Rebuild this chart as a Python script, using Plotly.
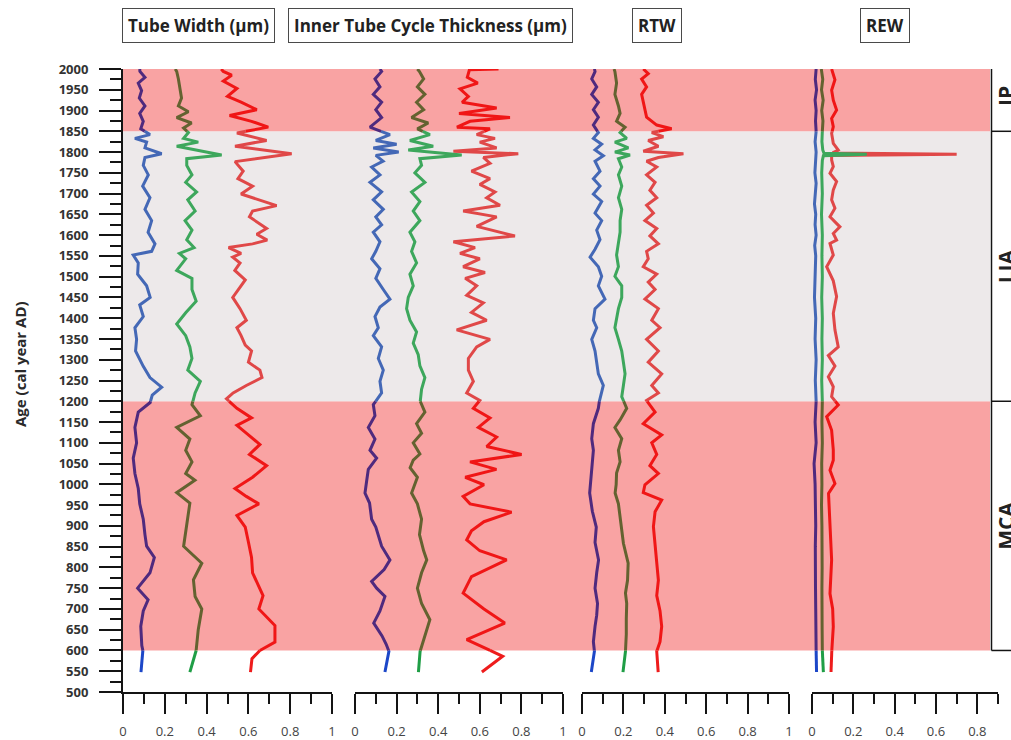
import plotly.graph_objects as go

# ---------------- data: age (cal year AD) vs. value, three series per panel ----------------
# Tube Width (µm)
tw_blue_age = [2000, 1994, 1980, 1966, 1948, 1930, 1911, 1893, 1874, 1856, 1842, 1833, 1824, 1810, 1796,
               1787, 1768, 1745, 1718, 1690, 1662, 1635, 1607, 1579, 1561, 1552, 1533, 1506, 1478, 1450,
               1432, 1404, 1377, 1349, 1321, 1284, 1257, 1234, 1215, 1197, 1174, 1137, 1100, 1063, 1026,
               990, 953, 916, 879, 851, 824, 787, 750, 722, 695, 658, 612, 600, 548]
tw_blue = [0.080, 0.081, 0.105, 0.073, 0.089, 0.078, 0.105, 0.080, 0.097, 0.085, 0.129, 0.057, 0.113, 0.105, 0.185,
           0.105, 0.097, 0.121, 0.094, 0.129, 0.105, 0.137, 0.120, 0.153, 0.137, 0.049, 0.073, 0.070, 0.113, 0.130,
           0.080, 0.097, 0.057, 0.065, 0.060, 0.097, 0.129, 0.185, 0.140, 0.130, 0.073, 0.057, 0.065, 0.049, 0.057,
           0.073, 0.080, 0.097, 0.105, 0.113, 0.150, 0.129, 0.070, 0.120, 0.097, 0.085, 0.090, 0.095, 0.086]

tw_green_age = [2000, 1994, 1976, 1948, 1930, 1911, 1897, 1883, 1870, 1858, 1847, 1833, 1824, 1814, 1805,
                1793, 1784, 1768, 1745, 1727, 1704, 1685, 1658, 1635, 1612, 1589, 1570, 1556, 1543, 1515,
                1496, 1469, 1441, 1413, 1386, 1358, 1331, 1303, 1275, 1248, 1220, 1192, 1165, 1137, 1109,
                1082, 1054, 1026, 1010, 980, 955, 916, 879, 851, 810, 770, 730, 700, 650, 600, 548]
tw_green = [0.250, 0.257, 0.265, 0.273, 0.280, 0.265, 0.313, 0.257, 0.328, 0.290, 0.313, 0.290, 0.360, 0.257, 0.350,
            0.472, 0.305, 0.305, 0.330, 0.300, 0.352, 0.310, 0.345, 0.297, 0.330, 0.305, 0.340, 0.270, 0.300, 0.257,
            0.330, 0.330, 0.350, 0.300, 0.257, 0.300, 0.320, 0.330, 0.310, 0.370, 0.345, 0.330, 0.370, 0.257, 0.320,
            0.300, 0.330, 0.300, 0.344, 0.257, 0.320, 0.310, 0.300, 0.290, 0.377, 0.337, 0.345, 0.377, 0.360, 0.350,
            0.320]

tw_red_age = [2000, 1994, 1985, 1971, 1953, 1934, 1920, 1902, 1888, 1874, 1860, 1846, 1828, 1814, 1796,
              1777, 1754, 1736, 1718, 1699, 1671, 1658, 1644, 1630, 1616, 1602, 1588, 1579, 1570, 1556,
              1547, 1533, 1515, 1492, 1469, 1450, 1423, 1395, 1377, 1358, 1335, 1321, 1294, 1275, 1257,
              1238, 1220, 1206, 1183, 1160, 1142, 1119, 1096, 1072, 1045, 1017, 990, 971, 953, 925,
              897, 861, 824, 787, 732, 700, 660, 620, 600, 580, 548]
tw_red = [0.470, 0.480, 0.520, 0.480, 0.545, 0.500, 0.565, 0.640, 0.510, 0.615, 0.695, 0.545, 0.687, 0.536, 0.807,
          0.536, 0.575, 0.550, 0.620, 0.565, 0.735, 0.620, 0.605, 0.645, 0.687, 0.640, 0.690, 0.620, 0.505, 0.565,
          0.525, 0.560, 0.535, 0.585, 0.550, 0.525, 0.560, 0.590, 0.545, 0.565, 0.585, 0.615, 0.600, 0.655, 0.665,
          0.590, 0.527, 0.495, 0.545, 0.615, 0.545, 0.600, 0.655, 0.605, 0.687, 0.620, 0.536, 0.590, 0.650, 0.545,
          0.585, 0.600, 0.615, 0.620, 0.670, 0.650, 0.727, 0.727, 0.655, 0.617, 0.610]

# Inner Tube Cycle Thickness (µm)
itc_blue_age = [2000, 1994, 1976, 1957, 1939, 1920, 1902, 1883, 1860, 1842, 1828, 1819, 1810, 1800, 1792,
                1778, 1764, 1745, 1727, 1704, 1685, 1662, 1644, 1625, 1607, 1584, 1561, 1543, 1519, 1496,
                1469, 1446, 1427, 1404, 1377, 1358, 1331, 1303, 1275, 1248, 1220, 1192, 1165, 1137, 1109,
                1082, 1063, 1036, 1008, 979, 955, 916, 897, 851, 818, 795, 766, 750, 730, 695,
                666, 635, 615, 598, 548]
itc_blue = [0.120, 0.128, 0.096, 0.120, 0.088, 0.128, 0.100, 0.128, 0.072, 0.168, 0.100, 0.200, 0.088, 0.210, 0.100,
            0.135, 0.080, 0.120, 0.072, 0.128, 0.088, 0.136, 0.100, 0.128, 0.088, 0.120, 0.100, 0.080, 0.120, 0.100,
            0.136, 0.168, 0.120, 0.096, 0.112, 0.088, 0.128, 0.112, 0.136, 0.120, 0.128, 0.088, 0.096, 0.064, 0.096,
            0.072, 0.104, 0.064, 0.056, 0.048, 0.070, 0.080, 0.100, 0.128, 0.168, 0.140, 0.080, 0.104, 0.144, 0.120,
            0.090, 0.130, 0.150, 0.163, 0.144]

itc_green_age = [2000, 1994, 1976, 1957, 1939, 1920, 1902, 1883, 1870, 1856, 1842, 1828, 1814, 1805, 1793,
                 1784, 1768, 1750, 1727, 1704, 1681, 1658, 1635, 1607, 1584, 1561, 1533, 1506, 1478, 1450,
                 1423, 1395, 1367, 1340, 1312, 1285, 1257, 1229, 1202, 1174, 1146, 1123, 1100, 1073, 1058,
                 1040, 1017, 979, 953, 916, 879, 840, 818, 787, 750, 713, 674, 639, 598, 548]
itc_green = [0.300, 0.310, 0.330, 0.300, 0.336, 0.296, 0.330, 0.272, 0.352, 0.300, 0.360, 0.264, 0.376, 0.256, 0.513,
             0.312, 0.320, 0.288, 0.336, 0.272, 0.312, 0.280, 0.312, 0.264, 0.288, 0.272, 0.296, 0.264, 0.280, 0.256,
             0.248, 0.264, 0.296, 0.280, 0.304, 0.312, 0.336, 0.320, 0.312, 0.336, 0.296, 0.320, 0.280, 0.312, 0.280,
             0.265, 0.300, 0.272, 0.300, 0.320, 0.310, 0.330, 0.345, 0.320, 0.300, 0.320, 0.360, 0.340, 0.313, 0.305]

itc_red_age = [2000, 1998, 1980, 1966, 1952, 1934, 1920, 1906, 1893, 1883, 1874, 1860, 1856, 1842, 1833,
               1824, 1810, 1802, 1796, 1787, 1773, 1754, 1736, 1722, 1704, 1690, 1672, 1658, 1644, 1621,
               1598, 1584, 1570, 1556, 1543, 1524, 1510, 1496, 1478, 1455, 1437, 1414, 1395, 1372, 1349,
               1331, 1303, 1275, 1248, 1220, 1202, 1183, 1160, 1137, 1114, 1091, 1072, 1054, 1036, 1017,
               999, 971, 953, 933, 910, 888, 866, 840, 818, 778, 738, 700, 666, 626, 586, 548]
itc_red = [0.690, 0.550, 0.540, 0.590, 0.505, 0.545, 0.515, 0.681, 0.500, 0.745, 0.553, 0.490, 0.649, 0.585, 0.673,
           0.600, 0.681, 0.473, 0.785, 0.617, 0.649, 0.560, 0.649, 0.600, 0.673, 0.633, 0.697, 0.520, 0.681, 0.585,
           0.769, 0.473, 0.577, 0.505, 0.600, 0.520, 0.625, 0.530, 0.585, 0.537, 0.617, 0.560, 0.633, 0.489, 0.649,
           0.585, 0.545, 0.545, 0.569, 0.537, 0.600, 0.569, 0.649, 0.593, 0.681, 0.633, 0.801, 0.553, 0.680, 0.530,
           0.620, 0.520, 0.553, 0.753, 0.620, 0.560, 0.537, 0.600, 0.729, 0.560, 0.520, 0.620, 0.720, 0.537, 0.710,
           0.610]

# RTW
rtw_blue_age = [2000, 1994, 1976, 1957, 1939, 1920, 1902, 1884, 1865, 1847, 1833, 1819, 1805, 1791, 1778,
                1754, 1736, 1718, 1699, 1681, 1653, 1635, 1612, 1589, 1566, 1547, 1524, 1501, 1478, 1446,
                1423, 1395, 1377, 1349, 1321, 1294, 1266, 1238, 1211, 1183, 1146, 1110, 1082, 1054, 1008,
                979, 935, 897, 860, 818, 787, 750, 713, 685, 658, 621, 598, 548]
rtw_blue = [0.060, 0.063, 0.047, 0.071, 0.047, 0.079, 0.055, 0.079, 0.055, 0.079, 0.055, 0.095, 0.063, 0.103, 0.063,
            0.087, 0.055, 0.087, 0.055, 0.095, 0.063, 0.095, 0.071, 0.087, 0.063, 0.039, 0.079, 0.095, 0.079, 0.111,
            0.063, 0.055, 0.071, 0.047, 0.063, 0.071, 0.079, 0.103, 0.087, 0.079, 0.055, 0.047, 0.055, 0.050, 0.040,
            0.037, 0.050, 0.069, 0.063, 0.080, 0.071, 0.063, 0.075, 0.071, 0.063, 0.055, 0.060, 0.045]

rtw_green_age = [2000, 1994, 1966, 1939, 1911, 1893, 1874, 1860, 1847, 1833, 1824, 1810, 1800, 1793, 1784,
                 1764, 1745, 1718, 1690, 1662, 1635, 1607, 1579, 1552, 1524, 1501, 1478, 1450, 1423, 1395,
                 1377, 1349, 1321, 1294, 1266, 1238, 1211, 1183, 1155, 1137, 1110, 1082, 1054, 1027, 999,
                 979, 953, 916, 880, 858, 810, 769, 738, 713, 676, 639, 598, 548]
rtw_green = [0.155, 0.159, 0.167, 0.159, 0.176, 0.184, 0.167, 0.208, 0.184, 0.216, 0.159, 0.224, 0.159, 0.232, 0.176,
             0.192, 0.176, 0.192, 0.176, 0.192, 0.184, 0.184, 0.176, 0.167, 0.176, 0.159, 0.192, 0.192, 0.176, 0.167,
             0.159, 0.176, 0.192, 0.200, 0.208, 0.200, 0.192, 0.216, 0.184, 0.159, 0.192, 0.176, 0.184, 0.167, 0.165,
             0.160, 0.176, 0.184, 0.192, 0.200, 0.223, 0.220, 0.210, 0.216, 0.214, 0.214, 0.210, 0.198]

rtw_red_age = [2000, 1989, 1976, 1957, 1939, 1920, 1902, 1884, 1865, 1856, 1847, 1837, 1828, 1814, 1802,
               1796, 1787, 1778, 1764, 1745, 1727, 1708, 1690, 1672, 1653, 1635, 1616, 1598, 1579, 1561,
               1543, 1524, 1506, 1487, 1469, 1446, 1423, 1395, 1377, 1349, 1321, 1294, 1266, 1238, 1220,
               1202, 1174, 1146, 1119, 1100, 1072, 1045, 1026, 999, 980, 962, 934, 898, 851, 805,
               769, 732, 695, 658, 621, 598, 548]
rtw_red = [0.296, 0.320, 0.288, 0.312, 0.288, 0.296, 0.304, 0.312, 0.361, 0.433, 0.337, 0.393, 0.320, 0.369, 0.296,
           0.490, 0.369, 0.312, 0.361, 0.312, 0.353, 0.328, 0.361, 0.312, 0.345, 0.304, 0.361, 0.328, 0.369, 0.312,
           0.320, 0.296, 0.361, 0.320, 0.353, 0.304, 0.369, 0.337, 0.377, 0.312, 0.369, 0.320, 0.385, 0.337, 0.369,
           0.312, 0.353, 0.296, 0.385, 0.337, 0.361, 0.328, 0.369, 0.304, 0.296, 0.385, 0.353, 0.345, 0.353, 0.361,
           0.369, 0.361, 0.377, 0.385, 0.377, 0.361, 0.368]

# REW
rew_blue_age = [2000, 1975, 1950, 1925, 1900, 1875, 1850, 1825, 1800, 1775, 1750, 1725, 1700, 1675, 1650,
                1625, 1600, 1575, 1550, 1500, 1450, 1400, 1350, 1300, 1250, 1200, 1150, 1100, 1050, 1000,
                950, 900, 850, 800, 750, 700, 650, 600, 548]
rew_blue = [0.020, 0.016, 0.022, 0.015, 0.020, 0.017, 0.020, 0.015, 0.020, 0.016, 0.014, 0.020, 0.017, 0.012, 0.018,
            0.015, 0.020, 0.013, 0.018, 0.016, 0.012, 0.018, 0.015, 0.020, 0.016, 0.020, 0.015, 0.020, 0.010, 0.015,
            0.017, 0.018, 0.016, 0.015, 0.017, 0.018, 0.019, 0.020, 0.022]

rew_green_age = [2000, 1975, 1950, 1925, 1900, 1875, 1850, 1825, 1805, 1797, 1795, 1791, 1780, 1750, 1700,
                 1650, 1600, 1550, 1500, 1450, 1400, 1350, 1300, 1250, 1200, 1150, 1100, 1050, 1000, 950,
                 900, 850, 800, 750, 700, 650, 600, 548]
rew_green = [0.045, 0.052, 0.046, 0.054, 0.047, 0.053, 0.050, 0.048, 0.052, 0.058, 0.265, 0.055, 0.050, 0.047, 0.050,
             0.046, 0.050, 0.048, 0.050, 0.047, 0.050, 0.048, 0.050, 0.047, 0.050, 0.048, 0.050, 0.047, 0.048, 0.046,
             0.048, 0.050, 0.049, 0.048, 0.050, 0.049, 0.050, 0.055]

rew_red_age = [2000, 1974, 1949, 1925, 1901, 1881, 1861, 1845, 1821, 1805, 1798, 1795, 1792, 1781, 1765,
               1749, 1729, 1709, 1685, 1665, 1644, 1620, 1604, 1588, 1580, 1552, 1524, 1490, 1452, 1412,
               1372, 1331, 1310, 1285, 1259, 1235, 1211, 1191, 1163, 1130, 1083, 1058, 1034, 1002, 978,
               898, 818, 737, 700, 657, 593, 548]
rew_red = [0.095, 0.111, 0.095, 0.103, 0.119, 0.095, 0.103, 0.095, 0.103, 0.127, 0.100, 0.700, 0.095, 0.095, 0.103,
           0.087, 0.119, 0.103, 0.095, 0.111, 0.087, 0.135, 0.103, 0.119, 0.087, 0.103, 0.071, 0.103, 0.119, 0.103,
           0.111, 0.127, 0.079, 0.111, 0.079, 0.103, 0.095, 0.127, 0.071, 0.095, 0.103, 0.103, 0.087, 0.111, 0.080,
           0.087, 0.095, 0.087, 0.100, 0.103, 0.095, 0.092]

panel_titles = ["Tube Width (µm)", "Inner Tube Cycle Thickness (µm)", "RTW", "REW"]
period_labels = ["IP", "LIA", "MCA"]
period_mid = [1935, 1525, 900]
period_edges = [1850, 1200, 600]

# ---------------- styling ----------------
W, H = 1011, 740
ML, MR, MT, MB = 123, 13, 69, 48
FONT = "Open Sans, Arial, sans-serif"
INK = "#141414"
PINK = "#f9a3a3"
GREY = "#ede9ea"

# line colours as seen through each climate band
LINE_COLOURS = {
    "plain": {"blue": "#1c47c8", "green": "#1f9e46", "red": "#ee1c1c"},
    "warm": {"blue": "#4f2a7e", "green": "#646230", "red": "#f01616"},
    "cool": {"blue": "#4468b6", "green": "#3da75c", "red": "#e04848"},
}
# (lower age, upper age, band fill, palette)
ZONES = [
    (500, 600, None, "plain"),
    (600, 1200, PINK, "warm"),
    (1200, 1850, GREY, "cool"),
    (1850, 2000, PINK, "warm"),
]


def px_x(p):
    return (p - ML) / (W - ML - MR)


def px_y(p):
    return 1 - (p - MT) / (H - MT - MB)


def zone_path(ages, vals, lo, hi):
    """Part of a polyline lying inside lo <= age <= hi (cut exactly at the band edges)."""
    assert len(ages) == len(vals)
    xs, ys = [], []
    for i in range(len(ages)):
        a, v = ages[i], vals[i]
        if i > 0:
            pa, pv = ages[i - 1], vals[i - 1]
            for b in sorted((lo, hi), reverse=a < pa):
                if (pa - b) * (a - b) < 0:
                    xs.append(pv + (v - pv) * (b - pa) / (a - pa))
                    ys.append(b)
        if lo <= a <= hi:
            xs.append(v)
            ys.append(a)
    return xs, ys


panels = [
    ("x", [(tw_red_age, tw_red, "red"), (tw_green_age, tw_green, "green"), (tw_blue_age, tw_blue, "blue")]),
    ("x2", [(itc_red_age, itc_red, "red"), (itc_green_age, itc_green, "green"), (itc_blue_age, itc_blue, "blue")]),
    ("x3", [(rtw_red_age, rtw_red, "red"), (rtw_green_age, rtw_green, "green"), (rtw_blue_age, rtw_blue, "blue")]),
    ("x4", [(rew_red_age, rew_red, "red"), (rew_green_age, rew_green, "green"), (rew_blue_age, rew_blue, "blue")]),
]

fig = go.Figure()
for xa, series in panels:
    for ages, vals, hue in series:
        for lo, hi, _, pal in ZONES:
            xs, ys = zone_path(ages, vals, lo, hi)
            if len(xs) < 2:
                continue
            fig.add_trace(go.Scatter(
                x=xs, y=ys, xaxis=xa, yaxis="y", mode="lines",
                line=dict(color=LINE_COLOURS[pal][hue], width=3),
                hoverinfo="skip", showlegend=False,
            ))


def x_axis(lo_px, hi_px, xmax):
    return dict(
        domain=[px_x(lo_px), px_x(hi_px)], range=[0, xmax], anchor="y", automargin=False,
        showline=True, linecolor=INK, linewidth=2, showgrid=False, zeroline=False,
        ticks="outside", tick0=0, dtick=0.2, ticklen=20, tickwidth=2, tickcolor=INK,
        minor=dict(ticks="outside", tick0=0, dtick=0.1, ticklen=10, tickwidth=2, tickcolor=INK),
        tickfont=dict(family=FONT, size=13, color="#444444"), ticklabelstandoff=6,
        fixedrange=True,
    )


shapes = []
band_right = px_x(990)
for lo, hi, fill, _ in ZONES:
    if fill:
        shapes.append(dict(type="rect", xref="paper", yref="y", x0=0, x1=band_right, y0=lo, y1=hi,
                           fillcolor=fill, line=dict(width=0), layer="below"))
bracket_x = px_x(991.5)
shapes.append(dict(type="line", xref="paper", yref="y", x0=bracket_x, x1=bracket_x, y0=600, y1=2000,
                   line=dict(color=INK, width=1.5)))
for e in period_edges:
    shapes.append(dict(type="line", xref="paper", yref="y", x0=bracket_x, x1=px_x(1020), y0=e, y1=e,
                       line=dict(color=INK, width=1.5)))

annotations = []
for title, cx in zip(panel_titles, [198.5, 430, 657, 885]):
    annotations.append(dict(
        text=title, xref="paper", yref="paper", x=px_x(cx), y=px_y(25.5),
        xanchor="center", yanchor="middle", showarrow=False,
        font=dict(family=FONT, size=17, color="#222222", weight="bold"),
        bordercolor="#4a4a4a", borderwidth=1, borderpad=5, bgcolor="white",
    ))
for lab, mid in zip(period_labels, period_mid):
    annotations.append(dict(
        text=lab, xref="paper", yref="y", x=px_x(1006), y=mid, textangle=-90,
        xanchor="center", yanchor="middle", showarrow=False,
        font=dict(family=FONT, size=21, color="#222222", weight="bold"),
    ))
annotations.append(dict(
    text="Age (cal year AD)", xref="paper", yref="paper", x=px_x(20), y=px_y(364), textangle=-90,
    xanchor="center", yanchor="middle", showarrow=False,
    font=dict(family=FONT, size=15, color="#2a2a2a", weight="bold"),
))

fig.update_layout(
    width=W, height=H, margin=dict(l=ML, r=MR, t=MT, b=MB, autoexpand=False),
    paper_bgcolor="white", plot_bgcolor="white", showlegend=False,
    xaxis=x_axis(123, 332, 1),
    xaxis2=x_axis(355, 563, 1),
    xaxis3=x_axis(582, 789, 1),
    xaxis4=x_axis(812, 998, 0.9),
    yaxis=dict(
        domain=[0, 1], range=[500, 2000], anchor="x", automargin=False,
        showline=True, linecolor=INK, linewidth=2, showgrid=False, zeroline=False,
        ticks="outside", tick0=500, dtick=50, ticklen=22, tickwidth=2, tickcolor=INK,
        minor=dict(ticks="outside", tick0=500, dtick=25, ticklen=11, tickwidth=2, tickcolor=INK),
        tickfont=dict(family=FONT, size=13, color="#333333", weight="bold"), ticklabelstandoff=8,
        fixedrange=True,
    ),
    shapes=shapes,
    annotations=annotations,
)

fig.write_html("out.html")
